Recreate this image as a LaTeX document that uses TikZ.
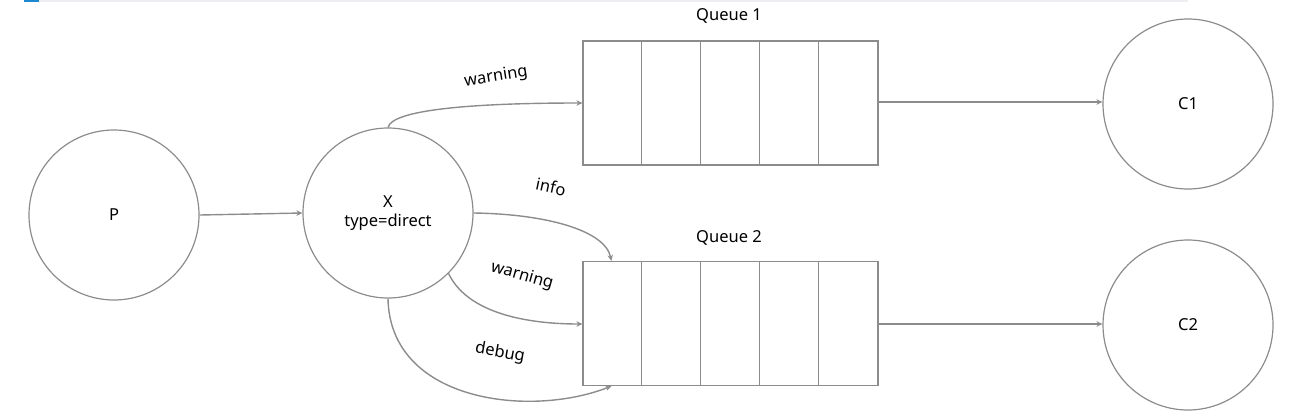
\documentclass[tikz,border=0pt]{standalone}
\usepackage{fontspec}
\setmainfont{Noto Sans}
\usetikzlibrary{arrows.meta,calc}
\definecolor{ln}{HTML}{8C8C8C}
\definecolor{barcol}{HTML}{EEEDF2}
\definecolor{blueacc}{HTML}{1E88D0}
\tikzset{
  circ/.style={circle, draw=ln, line width=1.2pt, minimum size=170pt, inner sep=0pt, align=center, font=\fontsize{16.5}{19}\selectfont},
  queue/.style={rectangle, draw=ln, line width=1.2pt, minimum width=295pt, minimum height=124pt, inner sep=0pt},
  conn/.style={draw=ln, line width=1.4pt, -{Stealth[length=6pt,width=5.5pt]}},
  lbl/.style={font=\fontsize{16.5}{19}\selectfont, inner sep=0pt},
  qlbl/.style={font=\fontsize{16.5}{19}\selectfont, inner sep=1pt},
  cell/.style={draw=ln, line width=1.2pt}
}
\begin{document}
\begin{tikzpicture}[x=1pt,y=-1pt]
\useasboundingbox (0,0) rectangle (1298,416);
\fill[barcol] (39,0) rectangle (1188,2.3);
\fill[blueacc] (24,0) rectangle (39,2.3);
% nodes
\node[circ] (P) at (114,215) {P};
\node[circ] (X) at (388,213) {X\\type=direct};
\node[circ] (C1) at (1188,104) {C1};
\node[circ] (C2) at (1188,325) {C2};
\node[queue] (Q1) at (730.5,103) {};
\node[queue] (Q2) at (730.5,323.5) {};
\foreach \i in {1,2,3,4} {
  \draw[cell] ($(Q1.north west)+(59*\i,0)$) -- ($(Q1.south west)+(59*\i,0)$);
  \draw[cell] ($(Q2.north west)+(59*\i,0)$) -- ($(Q2.south west)+(59*\i,0)$);
}
\node[qlbl] (q1l) at (729,16) {Queue 1};
\node[qlbl] (q2l) at (729,238) {Queue 2};
% straight connectors
\draw[conn] (P.east) -- (X.west);
\draw[conn] (Q1.east |- 0,102) -- (C1.west |- 0,102);
\draw[conn] (Q2.east |- 0,324) -- (C2.west |- 0,324);
% curved connectors
\draw[conn] (X.north) .. controls (392,110) and (470,103) .. (Q1.west);
\coordinate (ine) at ($(Q2.north west)+(29,0)$);
\draw[conn] (X.east) .. controls (545,214) and (605,230) .. (ine);
\draw[conn] (X.-45) .. controls (470,318) and (540,324) .. (Q2.west |- 0,324);
\coordinate (dbe) at ($(Q2.south west)+(29,0)$);
\draw[conn] (X.south) .. controls (390,402) and (530,418) .. (dbe);
% labels
\node[lbl, rotate=9] (lw1) at (496,77) {warning};
\node[lbl, rotate=-12] (lin) at (551,187) {info};
\node[lbl, rotate=-16] (lw2) at (522,276) {warning};
\node[lbl, rotate=-10] (ldb) at (500,353) {debug};
\end{tikzpicture}
\end{document}
